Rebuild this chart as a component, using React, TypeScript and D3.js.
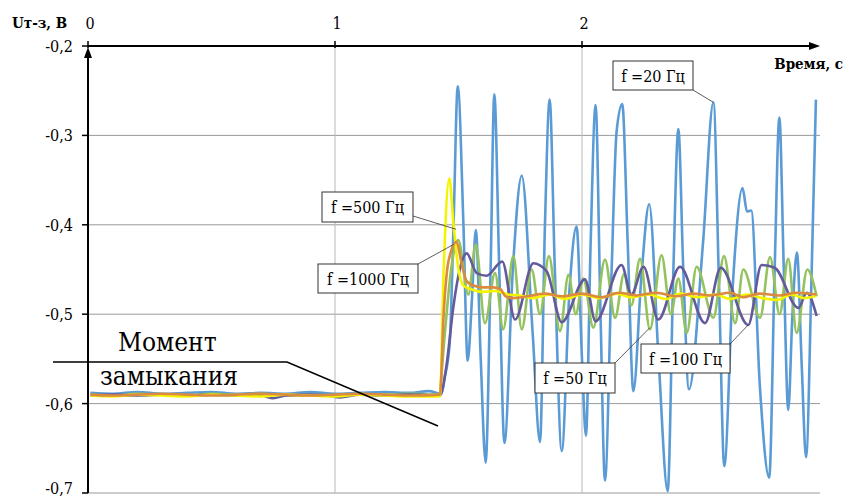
import React from "react";
import * as d3 from "d3";

type Pt = [number, number];

const xTicks = [0, 1, 2];
const yTicks = [-0.2, -0.3, -0.4, -0.5, -0.6, -0.7];

// flat part before the short circuit, same for every trace with small wiggles
const f20: Pt[] = [
  [0.01, -0.588], [0.1, -0.589], [0.2, -0.587], [0.3, -0.589], [0.4, -0.588], [0.5, -0.587],
  [0.6, -0.589], [0.7, -0.588], [0.8, -0.589], [0.9, -0.587], [1.0, -0.589], [1.1, -0.588],
  [1.2, -0.587], [1.3, -0.588], [1.38, -0.586], [1.43, -0.589], [1.445, -0.57], [1.465, -0.53],
  [1.48, -0.4], [1.497, -0.245], [1.52, -0.4], [1.537, -0.552], [1.555, -0.48], [1.57, -0.406],
  [1.59, -0.55], [1.61, -0.666], [1.63, -0.45], [1.645, -0.254], [1.665, -0.45], [1.686, -0.644],
  [1.72, -0.45], [1.756, -0.345], [1.8, -0.52], [1.83, -0.643], [1.85, -0.4], [1.869, -0.26],
  [1.89, -0.45], [1.918, -0.653], [1.95, -0.47], [1.978, -0.402], [2.0, -0.55], [2.016, -0.636],
  [2.035, -0.42], [2.055, -0.266], [2.075, -0.5], [2.093, -0.686], [2.12, -0.45], [2.14, -0.296],
  [2.163, -0.265], [2.185, -0.42], [2.208, -0.586], [2.24, -0.46], [2.272, -0.377], [2.31, -0.55],
  [2.347, -0.698], [2.37, -0.45], [2.39, -0.293], [2.41, -0.45], [2.433, -0.584], [2.49, -0.42],
  [2.532, -0.263], [2.555, -0.47], [2.576, -0.67], [2.61, -0.47], [2.65, -0.359], [2.668, -0.385],
  [2.685, -0.384], [2.72, -0.58], [2.758, -0.683], [2.78, -0.45], [2.799, -0.28], [2.817, -0.45],
  [2.835, -0.607], [2.852, -0.5], [2.87, -0.431], [2.89, -0.56], [2.907, -0.66], [2.93, -0.45],
  [2.947, -0.26],
];

const f50: Pt[] = [
  [0.01, -0.590], [0.1, -0.591], [0.2, -0.589], [0.3, -0.590], [0.4, -0.591], [0.5, -0.589],
  [0.6, -0.590], [0.7, -0.589], [0.8, -0.591], [0.9, -0.590], [1.0, -0.591], [1.1, -0.589],
  [1.2, -0.590], [1.3, -0.589], [1.42, -0.59], [1.445, -0.52], [1.47, -0.45], [1.499, -0.417],
  [1.54, -0.478], [1.57, -0.422], [1.607, -0.51], [1.648, -0.454], [1.681, -0.517], [1.722, -0.435],
  [1.756, -0.517], [1.796, -0.45], [1.83, -0.5], [1.866, -0.435], [1.911, -0.519], [1.945, -0.456],
  [1.975, -0.5], [2.005, -0.46], [2.046, -0.515], [2.093, -0.439], [2.134, -0.504], [2.17, -0.455],
  [2.2, -0.49], [2.235, -0.438], [2.275, -0.517], [2.322, -0.434], [2.36, -0.5], [2.39, -0.46],
  [2.424, -0.521], [2.464, -0.447], [2.532, -0.504], [2.575, -0.435], [2.62, -0.51], [2.653, -0.45],
  [2.721, -0.504], [2.761, -0.436], [2.8, -0.5], [2.835, -0.438], [2.869, -0.521], [2.912, -0.45],
  [2.95, -0.48],
];

const f100: Pt[] = [
  [0.01, -0.591], [0.1, -0.590], [0.2, -0.591], [0.3, -0.590], [0.4, -0.591], [0.5, -0.590],
  [0.6, -0.591], [0.7, -0.591], [0.75, -0.594], [0.8, -0.591], [0.9, -0.590], [0.97, -0.591],
  [1.02, -0.593], [1.1, -0.590], [1.2, -0.591], [1.3, -0.590], [1.425, -0.591], [1.45, -0.56],
  [1.48, -0.49], [1.505, -0.45], [1.533, -0.432], [1.574, -0.454], [1.614, -0.457], [1.677, -0.441],
  [1.729, -0.506], [1.803, -0.443], [1.857, -0.452], [1.918, -0.509], [2.012, -0.461], [2.055, -0.508],
  [2.16, -0.445], [2.2, -0.478], [2.249, -0.447], [2.309, -0.506], [2.397, -0.447], [2.498, -0.51],
  [2.562, -0.448], [2.673, -0.512], [2.727, -0.445], [2.78, -0.448], [2.876, -0.493], [2.91, -0.476],
  [2.95, -0.502],
];

const f500: Pt[] = [
  [0.01, -0.591], [0.1, -0.592], [0.2, -0.590], [0.3, -0.591], [0.4, -0.592], [0.5, -0.590],
  [0.6, -0.591], [0.7, -0.592], [0.8, -0.590], [0.9, -0.591], [1.0, -0.592], [1.1, -0.590],
  [1.2, -0.591], [1.3, -0.592], [1.425, -0.592], [1.44, -0.45], [1.463, -0.348], [1.48, -0.4],
  [1.5, -0.45], [1.52, -0.468], [1.55, -0.472], [1.6, -0.475], [1.65, -0.474], [1.7, -0.478],
  [1.75, -0.479], [1.8, -0.482], [1.87, -0.478], [1.93, -0.483], [2.0, -0.478], [2.07, -0.482],
  [2.14, -0.477], [2.2, -0.481], [2.27, -0.478], [2.34, -0.483], [2.4, -0.477], [2.47, -0.481],
  [2.54, -0.478], [2.6, -0.483], [2.67, -0.478], [2.73, -0.482], [2.79, -0.484], [2.85, -0.478],
  [2.9, -0.482], [2.95, -0.479],
];

const f1000: Pt[] = [
  [0.01, -0.590], [0.1, -0.591], [0.2, -0.590], [0.3, -0.589], [0.4, -0.590], [0.5, -0.591],
  [0.6, -0.590], [0.7, -0.589], [0.8, -0.590], [0.9, -0.591], [1.0, -0.590], [1.1, -0.589],
  [1.2, -0.590], [1.3, -0.591], [1.425, -0.590], [1.44, -0.5], [1.46, -0.44], [1.493, -0.419],
  [1.51, -0.44], [1.533, -0.463], [1.56, -0.468], [1.6, -0.47], [1.64, -0.47], [1.67, -0.472],
  [1.69, -0.48], [1.72, -0.482], [1.78, -0.48], [1.85, -0.477], [1.92, -0.48], [2.0, -0.477],
  [2.08, -0.481], [2.15, -0.476], [2.22, -0.479], [2.3, -0.476], [2.38, -0.48], [2.45, -0.477],
  [2.52, -0.479], [2.6, -0.476], [2.65, -0.481], [2.72, -0.477], [2.8, -0.479], [2.87, -0.476],
  [2.95, -0.478],
];

const series = [
  { name: "f =20 Гц", data: f20, color: "#5b9bd5" },
  { name: "f =50 Гц", data: f50, color: "#93c25f" },
  { name: "f =100 Гц", data: f100, color: "#635a9c" },
  { name: "f =500 Гц", data: f500, color: "#f4f400" },
  { name: "f =1000 Гц", data: f1000, color: "#dc8a3e" },
];

// callout boxes and the point each leader line goes to
const labels = [
  { text: "f =20 Гц", box: [613, 61, 80, 29], from: [693, 90], to: [2.532, -0.263] },
  { text: "f =500 Гц", box: [322, 192, 91, 30], from: [413, 216], to: [1.49, -0.405] },
  { text: "f =1000 Гц", box: [318, 264, 100, 29], from: [418, 264], to: [1.48, -0.422] },
  { text: "f =50 Гц", box: [535, 363, 80, 30], from: [615, 363], to: [2.275, -0.515] },
  { text: "f =100 Гц", box: [641, 344, 89, 29], from: [730, 344], to: [2.673, -0.512] },
];

const font = "'DejaVu Serif Condensed', 'DejaVu Serif', serif";

export default function App() {
  const width = 845;
  const height = 499;
  const x = d3.scaleLinear().domain([0, 2]).range([88, 582]);
  const y = d3.scaleLinear().domain([-0.7, -0.2]).range([493, 46]);
  const xEnd = 820;

  const line = d3
    .line<Pt>()
    .x((d) => x(d[0]))
    .y((d) => y(d[1]))
    .curve(d3.curveMonotoneX);

  const txt = { fontFamily: font, fontStretch: "condensed" as const };

  return (
    <svg
      width={width}
      height={height}
      style={{ position: "absolute", left: 0, top: 0, background: "#fff", fontFamily: font }}
    >
      {/* grid */}
      {yTicks.slice(1).map((t) => (
        <line key={"gy" + t} x1={x(0)} x2={xEnd} y1={y(t)} y2={y(t)} stroke="#9a9a9a" strokeWidth={1} />
      ))}
      {xTicks.slice(1).map((t) => (
        <line key={"gx" + t} x1={x(t)} x2={x(t)} y1={y(-0.2)} y2={y(-0.7)} stroke="#b8b8b8" strokeWidth={1} />
      ))}

      {/* series */}
      {series.map((s) => (
        <path key={s.name} d={line(s.data) || ""} fill="none" stroke={s.color} strokeWidth={2.6} strokeLinejoin="round" />
      ))}

      {/* axes */}
      <line x1={x(0)} x2={xEnd - 8} y1={y(-0.2)} y2={y(-0.2)} stroke="#000" strokeWidth={2} />
      <path d={`M${xEnd},${y(-0.2)} L${xEnd - 11},${y(-0.2) - 4} L${xEnd - 11},${y(-0.2) + 4} Z`} fill="#000" />
      <line x1={x(0)} x2={x(0)} y1={y(-0.7)} y2={y(-0.2) + 8} stroke="#000" strokeWidth={2} />
      <path d={`M${x(0)},${y(-0.2) + 1} L${x(0) - 4},${y(-0.2) + 12} L${x(0) + 4},${y(-0.2) + 12} Z`} fill="#000" />

      {yTicks.map((t) => (
        <g key={"yt" + t}>
          <line x1={x(0) - 6} x2={x(0)} y1={y(t)} y2={y(t)} stroke="#000" strokeWidth={1.5} />
          <text x={73} y={Math.min(y(t) + 6, 494)} textAnchor="end" fontSize={16} style={txt}>
            {d3.format(".1f")(t).replace("−", "-").replace(".", ",")}
          </text>
        </g>
      ))}
      {xTicks.map((t) => (
        <g key={"xt" + t}>
          <line x1={x(t)} x2={x(t)} y1={y(-0.2) - 5} y2={y(-0.2) + 2} stroke="#000" strokeWidth={1.5} />
          <text x={x(t) + 2} y={29} textAnchor="middle" fontSize={16} style={txt}>
            {t}
          </text>
        </g>
      ))}

      <text x={12} y={28} fontSize={15} fontWeight="bold" style={txt}>Uт-з, В</text>
      <text x={843} y={69} fontSize={15} fontWeight="bold" textAnchor="end" style={txt}>Время, с</text>

      {/* annotation */}
      <text x={118} y={351} fontSize={26} style={txt}>Момент</text>
      <text x={100} y={385} fontSize={26} style={txt}>замыкания</text>
      <polyline points="53,362 287,362 438,426" fill="none" stroke="#000" strokeWidth={1.5} />

      {/* series labels */}
      {labels.map((l) => (
        <g key={l.text}>
          <line x1={l.from[0]} y1={l.from[1]} x2={x(l.to[0])} y2={y(l.to[1])} stroke="#333" strokeWidth={0.8} />
          <rect x={l.box[0]} y={l.box[1]} width={l.box[2]} height={l.box[3]} fill="#fff" stroke="#333" strokeWidth={1} />
          <text x={l.box[0] + l.box[2] / 2} y={l.box[1] + l.box[3] / 2 + 6} textAnchor="middle" fontSize={16} style={txt}>
            {l.text}
          </text>
        </g>
      ))}
    </svg>
  );
}
